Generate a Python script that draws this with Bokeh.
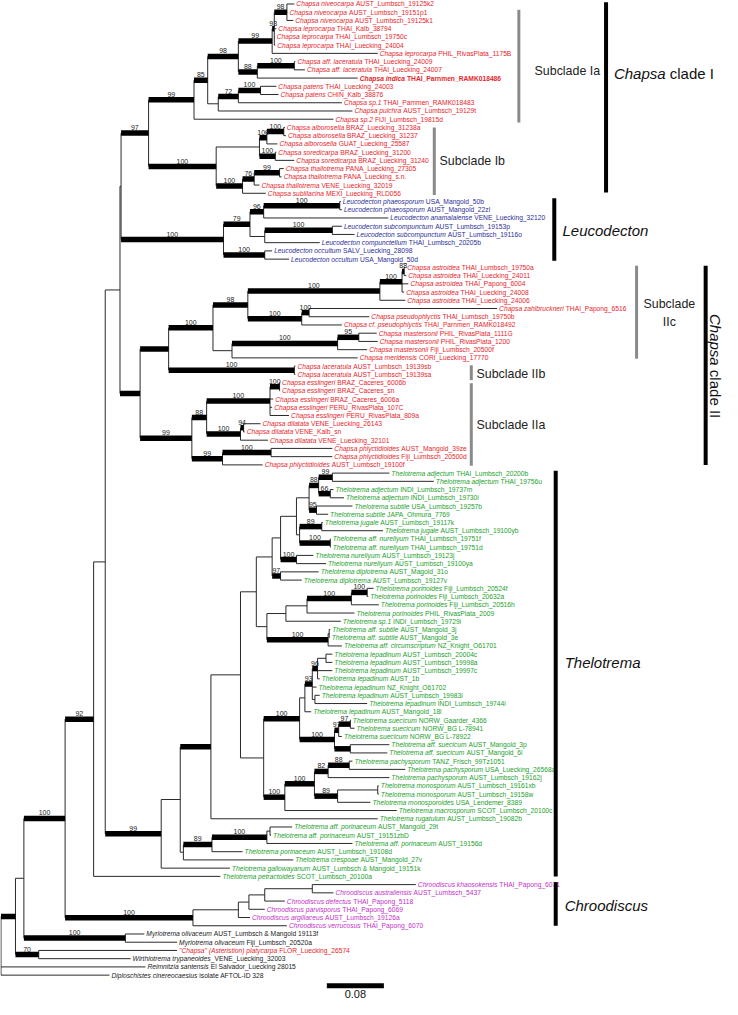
import math
from bokeh.plotting import figure
from bokeh.models import Range1d, ColumnDataSource
from bokeh.core.properties import value
from bokeh.embed import file_html
from bokeh.resources import INLINE

# ---------------------------------------------------------------- data
TAXA = [
    "Chapsa niveocarpa", "Chapsa niveocarpa", "Chapsa niveocarpa",
    "Chapsa leprocarpa", "Chapsa leprocarpa", "Chapsa leprocarpa", "Chapsa leprocarpa",
    "Chapsa aff. laceratula", "Chapsa aff. laceratula", "Chapsa indica",
    "Chapsa patens", "Chapsa patens", "Chapsa sp.1", "Chapsa pulchra", "Chapsa sp.2",
    "Chapsa alborosella", "Chapsa alborosella", "Chapsa alborosella",
    "Chapsa soredicarpa", "Chapsa soredicarpa",
    "Chapsa thallotrema", "Chapsa thallotrema", "Chapsa thallotrema", "Chapsa sublilacina",
    "Leucodecton phaeosporum", "Leucodecton phaeosporum", "Leucodecton anamalaiense",
    "Leucodecton subcompunctum", "Leucodecton subcompunctum", "Leucodecton compunctellum",
    "Leucodecton occultum", "Leucodecton occultum",
    "Chapsa astroidea", "Chapsa astroidea", "Chapsa astroidea", "Chapsa astroidea", "Chapsa astroidea",
    "Chapsa zahlbruckneri", "Chapsa pseudophlyctis", "Chapsa cf. pseudophlyctis",
    "Chapsa mastersonii", "Chapsa mastersonii", "Chapsa mastersonii", "Chapsa meridensis",
    "Chapsa laceratula", "Chapsa laceratula",
    "Chapsa esslingeri", "Chapsa esslingeri", "Chapsa esslingeri", "Chapsa esslingeri", "Chapsa esslingeri",
    "Chapsa dilatata", "Chapsa dilatata", "Chapsa dilatata",
    "Chapsa phlyctidioides", "Chapsa phlyctidioides", "Chapsa phlyctidioides",
    "Thelotrema adjectum", "Thelotrema adjectum", "Thelotrema adjectum", "Thelotrema adjectum",
    "Thelotrema subtile", "Thelotrema subtile", "Thelotrema jugale", "Thelotrema jugale",
    "Thelotrema aff. nureliyum", "Thelotrema aff. nureliyum",
    "Thelotrema nureliyum", "Thelotrema nureliyum",
    "Thelotrema diplotrema", "Thelotrema diplotrema",
    "Thelotrema porinoides", "Thelotrema porinoides", "Thelotrema porinoides", "Thelotrema porinoides",
    "Thelotrema sp.1", "Thelotrema aff. subtile", "Thelotrema aff. subtile",
    "Thelotrema aff. circumscriptum",
    "Thelotrema lepadinum", "Thelotrema lepadinum", "Thelotrema lepadinum", "Thelotrema lepadinum",
    "Thelotrema lepadinum", "Thelotrema lepadinum", "Thelotrema lepadinum", "Thelotrema lepadinum",
    "Thelotrema suecicum", "Thelotrema suecicum", "Thelotrema suecicum",
    "Thelotrema aff. suecicum", "Thelotrema aff. suecicum",
    "Thelotrema pachysporum", "Thelotrema pachysporum", "Thelotrema pachysporum",
    "Thelotrema monosporum", "Thelotrema monosporum", "Thelotrema monosporoides",
    "Thelotrema macrosporum", "Thelotrema rugatulum",
    "Thelotrema aff. porinaceum", "Thelotrema aff. porinaceum", "Thelotrema aff. porinaceum",
    "Thelotrema porinaceum", "Thelotrema crespoae", "Thelotrema gallowayanum",
    "Thelotrema petractoides",
    "Chroodiscus khaosokensis", "Chroodiscus australiensis", "Chroodiscus defectus",
    "Chroodiscus parvisporus", "Chroodiscus argillaceus", "Chroodiscus verrucosus",
    "Myriotrema olivaceum", "Myriotrema olivaceum",
    "\"Chapsa\" (Asteristion) platycarpa", "Wirthiotrema trypaneoides",
    "Reimnitzia santensis", "Diploschistes cinereocaesius",
]
VOUCHERS = [
    "AUST_Lumbsch_19125k2", "AUST_Lumbsch_19151p1", "AUST_Lumbsch_19125k1",
    "THAI_Kalb_38794", "THAI_Lumbsch_19750c", "THAI_Luecking_24004", "PHIL_RivasPlata_1175B",
    "THAI_Luecking_24009", "THAI_Luecking_24007", "THAI_Parnmen_RAMK018486",
    "THAI_Luecking_24003", "CHIN_Kalb_38876", "THAI_Pammen_RAMK018483",
    "AUST_Lumbsch_19129t", "FIJI_Lumbsch_19815d",
    "BRAZ_Luecking_31238a", "BRAZ_Luecking_31237", "GUAT_Luecking_25587",
    "BRAZ_Luecking_31200", "BRAZ_Luecking_31240",
    "PANA_Luecking_27305", "PANA_Luecking_s.n.", "VENE_Luecking_32019", "MEXI_Luecking_RLD056",
    "USA_Mangold_50b", "AUST_Mangold_22zl", "VENE_Luecking_32120",
    "AUST_Lumbsch_19153p", "AUST_Lumbsch_19116o", "THAI_Lumbsch_20205b",
    "SALV_Luecking_28098", "USA_Mangold_50d",
    "THAI_Lumbsch_19750a", "THAI_Luecking_24011", "THAI_Papong_6004",
    "THAI_Luecking_24008", "THAI_Luecking_24006",
    "THAI_Papong_6516", "THAI_Lumbsch_19750b", "THAI_Parnmen_RAMK018492",
    "PHIL_RivasPlata_1111G", "PHIL_RivasPlata_1200", "Fiji_Lumbsch_20500f", "CORI_Luecking_17770",
    "AUST_Lumbsch_19139sb", "AUST_Lumbsch_19139sa",
    "BRAZ_Caceres_6006b", "BRAZ_Caceres_sn", "BRAZ_Caceres_6006a",
    "PERU_RivasPlata_107C", "PERU_RivasPlata_809a",
    "VENE_Luecking_26143", "VENE_Kalb_sn", "VENE_Luecking_32101",
    "AUST_Mangold_39ze", "Fiji_Lumbsch_20500d", "AUST_Lumbsch_19100f",
    "THAI_Lumbsch_20200b", "THAI_19756u", "INDI_Lumbsch_19737m", "INDI_Lumbsch_19730i",
    "USA_Lumbsch_19257b", "JAPA_Ohmura_7769", "AUST_Lumbsch_19117k", "AUST_Lumbsch_19100yb",
    "THAI_Lumbsch_19751f", "THAI_Lumbsch_19751d",
    "AUST_Lumbsch_19123j", "AUST_Lumbsch_19100ya",
    "AUST_Magold_31o", "AUST_Lumbsch_19127v",
    "Fiji_Lumbsch_20524f", "Fiji_Lumbsch_20632a", "Fiji_Lumbsch_20516h", "PHIL_RivasPlata_2009",
    "INDI_Lumbsch_19729i", "AUST_Mangold_3j", "AUST_Mangold_3e", "NZ_Knight_O61701",
    "AUST_Lumbsch_20004c", "AUST_Lumbsch_19998a", "AUST_Lumbsch_19997c", "AUST_1b",
    "NZ_Knight_O61702", "AUST_Lumbsch_19983i", "INDI_Lumbsch_19744i", "AUST_Mangold_18l",
    "NORW_Gaarder_4366", "NORW_BG L-78941", "NORW_BG L-78922",
    "AUST_Mangold_3p", "AUST_Mangold_6l",
    "TANZ_Frisch_99Tz1051", "USA_Luecking_26568a", "AUST_Lumbsch_19162j",
    "AUST_Lumbsch_19161xb", "AUST_Lumbsch_19158w", "USA_Lendemer_8389",
    "SCOT_Lumbsch_20100c", "AUST_Lumbsch_19082b",
    "AUST_Mangold_29t", "AUST_19151zbD", "AUST_19156d",
    "AUST_Lumbsch_19108d", "AUST_Mangold_27v", "AUST_Lumbsch & Mangold_19151k",
    "SCOT_Lumbsch_20100a",
    "THAI_Papong_6071", "AUST_Lumbsch_5437", "THAI_Papong_5118",
    "THAI_Papong_6069", "AUST_Lumbsch_19126a", "THAI_Papong_6070",
    "AUST_Lumbsch & Mangold 19113f", "Fiji_Lumbsch_20520a",
    "FLOR_Luecking_26574", "_VENE_Luecking_32003",
    "El Salvador_Luecking 28015", "isolate AFTOL-ID 328",
]
# R = Chapsa, B = Leucodecton, G = Thelotrema, M = Chroodiscus, K = outgroups
GROUPS = list("R" * 24 + "B" * 8 + "R" * 25 + "G" * 50 + "M" * 6 + "KK" + "R" + "KKK")
BOLD_LEAVES = [9]

# tip depth (substitutions / site from the root)
LEAF_DEPTH = [
    0.4114, 0.4017, 0.4099, 0.3862, 0.3840, 0.3847, 0.5284, 0.4129, 0.4262, 0.5003,
    0.3862, 0.3892, 0.4781, 0.4929, 0.4662, 0.3981, 0.3996, 0.3877, 0.3862, 0.4114,
    0.3966, 0.3936, 0.3625, 0.3714, 0.4766, 0.4781, 0.5433, 0.4781, 0.4958, 0.4470,
    0.3803, 0.4040, 0.5670, 0.5684, 0.5714, 0.5655, 0.5670, 0.6958, 0.5166, 0.4781,
    0.5270, 0.5284, 0.5136, 0.5003, 0.4129, 0.4129, 0.3914, 0.3914, 0.3818, 0.3803,
    0.4040, 0.3640, 0.3418, 0.3744, 0.4647, 0.4647, 0.3670, 0.5447, 0.6070, 0.4662,
    0.4810, 0.4929, 0.4588, 0.4514, 0.5358, 0.4625, 0.4625, 0.4381, 0.4558, 0.4455,
    0.4218, 0.5225, 0.5151, 0.5299, 0.4958, 0.4766, 0.4618, 0.4610, 0.4781, 0.4647,
    0.4647, 0.4647, 0.4470, 0.4425, 0.4470, 0.5136, 0.4351, 0.4907, 0.4958, 0.4781,
    0.5447, 0.5418, 0.4929, 0.5670, 0.5447, 0.5299, 0.5299, 0.5181, 0.5551, 0.5284,
    0.4084, 0.3788, 0.4929, 0.3388, 0.4099, 0.3210, 0.3077, 0.5818, 0.4662, 0.3981,
    0.3699, 0.3492, 0.4010, 0.2010, 0.2470, 0.2470, 0.1818, 0.2025, 0.1521,
]


def clade(depth, support, thick, *kids):
    return {"depth": depth, "support": support, "thick": thick, "kids": kids}


# topology: clade(node depth, support value, strongly supported branch, children...)
TREE = clade(0.0, None, False,
  clade(0.0203, None, True,
    clade(0.0321, None, False,
      clade(0.0899, "100", True,
        clade(0.1299, "92", True,
          clade(0.1462, None, False,
            clade(0.1669, None, False,
              clade(0.1684, None, False,
                clade(0.2070, "97", True,
                  clade(0.2707, "99", True,
                    clade(0.2899, "85", True,
                      clade(0.3329, "98", True,
                        clade(0.3803, "99", True,
                          clade(0.3833, "93", True,
                            clade(0.4010, "98", True, 0, 1, 2),
                            3, 4, 5),
                          6),
                        clade(0.3595, "88", True,
                          clade(0.4114, "100", True, 7, 8),
                          9)),
                      clade(0.3047, None, False,
                        clade(0.3329, "72", True,
                          clade(0.3640, "100", True, 10, 11),
                          12),
                        13)),
                    14),
                  clade(0.3018, "100", True,
                    clade(0.3625, None, False,
                      clade(0.3729, "100", True,
                        clade(0.3966, "100", True, 15, 16),
                        17),
                      clade(0.3847, "100", True, 18, 19)),
                    clade(0.3388, "100", True,
                      clade(0.3551, "76", True,
                        clade(0.3907, "99", True, 20, 21),
                        22),
                      23))),
                clade(0.3121, "100", True,
                  clade(0.3492, "79", True,
                    clade(0.3684, "96", True,
                      clade(0.4751, "100", True, 24, 25),
                      26),
                    clade(0.3699, None, False,
                      clade(0.4647, "100", True, 27, 28),
                      29)),
                  clade(0.3699, "100", True, 30, 31))),
              clade(0.1951, None, True,
                clade(0.2351, None, True,
                  clade(0.2973, "100", True,
                    clade(0.3462, "98", True,
                      clade(0.5314, "100", True,
                        clade(0.5625, "100", True,
                          clade(0.5655, "88", True, 32, 33),
                          34, 35),
                        36),
                      clade(0.4218, "100", True,
                        clade(0.4321, "100", True, 37, 38),
                        39)),
                    clade(0.3240, None, False,
                      clade(0.4721, "100", True,
                        clade(0.5018, "95", True, 40, 41),
                        42),
                      43)),
                  clade(0.4114, "100", True, 44, 45)),
                clade(0.2677, "99", True,
                  clade(0.2884, "88", True,
                    clade(0.3773, "100", True,
                      clade(0.3907, "100", True, 46, 47),
                      48, 49, 50),
                    clade(0.3359, "100", True,
                      clade(0.3403, "94", True, 51, 52),
                      53)),
                  clade(0.3107, "99", True,
                    clade(0.3788, "100", True, 54, 55),
                    56)))),
            clade(0.2247, "99", True,
              clade(0.2514, None, False,
                clade(0.2944, None, True,
                  clade(0.3359, None, False,
                    clade(0.3581, None, False,
                      clade(0.3803, None, False,
                        clade(0.3921, None, False,
                          clade(0.4144, None, False,
                            clade(0.4321, None, False,
                              clade(0.4455, "88", True,
                                clade(0.4647, "99", True, 57, 58),
                                clade(0.4618, "66", True, 59, 60)),
                              clade(0.4425, "95", True, 61, 62)),
                            clade(0.4188, None, False,
                              clade(0.4499, "89", True, 63, 64),
                              clade(0.4618, "100", True, 65, 66))),
                          clade(0.4144, "100", True, 67, 68)),
                        clade(0.3921, "97", True, 69, 70)),
                      clade(0.3729, None, False,
                        clade(0.3996, None, False,
                          clade(0.4292, None, False,
                            clade(0.4914, "100", True,
                              clade(0.5136, "100", True, 71, 72),
                              73),
                            74),
                          75),
                        clade(0.4588, "100", True,
                          clade(0.4603, None, False, 76, 77),
                          78))),
                    clade(0.3684, None, False,
                      clade(0.4188, "100", True,
                        clade(0.4262, None, False,
                          clade(0.4366, "93", True,
                            clade(0.4440, "96", True,
                              clade(0.4558, None, False, 79, 80),
                              81, 82),
                            83,
                            clade(0.4403, None, False, 84, 85)),
                          86),
                        clade(0.4677, "100", True,
                          clade(0.4736, "97", True,
                            clade(0.4899, "97", True, 87, 88),
                            89),
                          clade(0.4899, None, True, 90, 91))),
                      clade(0.3981, "100", True,
                        clade(0.4396, "100", True,
                          clade(0.4588, "82", True,
                            clade(0.4884, "88", True, 92, 93),
                            94),
                          clade(0.4721, "89", True,
                            clade(0.5284, None, False, 95, 96),
                            97)),
                        98))),
                  99),
                clade(0.2558, None, False,
                  clade(0.2959, "89", True,
                    clade(0.3729, "100", True,
                      clade(0.3773, None, False, 100, 101),
                      102),
                    103),
                  104)),
              105)),
          106),
        clade(0.2692, "100", True,
          clade(0.3329, None, False,
            clade(0.3477, None, False,
              clade(0.3699, None, False,
                clade(0.4366, None, False, 107, 108),
                109),
              110),
            111),
          112)),
      clade(0.1744, "100", True, 113, 114)),
    clade(0.0529, "70", True, 115, 116)),
  117, 118)

# clade annotations: (name, first leaf, last leaf, kind)
BRACKETS = [
    ("Subclade Ia", 0, 14, "sub"),
    ("Subclade Ib", 15, 23, "sub"),
    ("Subclade IIc", 32, 43, "sub"),
    ("Subclade IIb", 44, 45, "sub"),
    ("Subclade IIa", 46, 56, "sub"),
    ("Chapsa clade I", 0, 23, "main"),
    ("Leucodecton", 24, 31, "main"),
    ("Chapsa clade II", 32, 56, "main"),
    ("Thelotrema", 57, 106, "main"),
    ("Chroodiscus", 107, 112, "main"),
]
SCALE_LENGTH = 0.08
SCALE_LABEL = "0.08"

# ---------------------------------------------------------------- styling / layout
PX_PER_UNIT = 713.0
W, H = 722, 999
X0 = -0.0007
ROW_PX = 8.23
Y_TOP = -0.425
FONT = "Liberation Sans"
LEAF_SIZE = 6.7
SUB_SIZE = 12.4
MAIN_SIZE = 15
COLORS = {"R": "#e8242b", "B": "#2b2e96", "G": "#22a12b", "M": "#c42fc8", "K": "#1a1a1a"}
LINE_COLOR = "#2a2a2a"

W_REG = {' ': 278, '!': 278, '"': 355, '&': 667, "'": 191, '(': 333, ')': 333, '-': 333,
         '.': 278, '_': 556,
         'A': 667, 'B': 667, 'C': 722, 'D': 722, 'E': 667, 'F': 611, 'G': 778, 'H': 722,
         'I': 278, 'J': 500, 'K': 667, 'L': 556, 'M': 833, 'N': 722, 'O': 778, 'P': 667,
         'Q': 778, 'R': 722, 'S': 667, 'T': 611, 'U': 722, 'V': 667, 'W': 944, 'X': 667,
         'Y': 667, 'Z': 611,
         'a': 556, 'b': 556, 'c': 500, 'd': 556, 'e': 556, 'f': 278, 'g': 556, 'h': 556,
         'i': 222, 'j': 222, 'k': 500, 'l': 222, 'm': 833, 'n': 556, 'o': 556, 'p': 556,
         'q': 556, 'r': 333, 's': 500, 't': 278, 'u': 556, 'v': 500, 'w': 722, 'x': 500,
         'y': 500, 'z': 500}
W_BOLD = dict(W_REG)
W_BOLD.update({'A': 722, 'B': 722, 'K': 722, 'L': 611, 'J': 556,
               'b': 611, 'c': 556, 'd': 611, 'f': 333, 'g': 611, 'h': 611, 'i': 278,
               'j': 278, 'k': 556, 'l': 278, 'm': 889, 'n': 611, 'o': 611, 'p': 611,
               'q': 611, 'r': 389, 's': 556, 't': 333, 'u': 611, 'v': 556, 'w': 778,
               'x': 556, 'y': 556})


def tw(s, size, bold=False):
    tab = W_BOLD if bold else W_REG
    return sum(tab.get(c, 556) for c in s) * size / 1000.0


p = figure(width=W, height=H, output_backend="svg", toolbar_location=None,
           x_range=Range1d(X0, X0 + W / PX_PER_UNIT),
           y_range=Range1d(Y_TOP + H / ROW_PX, Y_TOP),
           x_axis_type=None, y_axis_type=None, min_border=0)
p.grid.visible = False
p.outline_line_color = None
p.background_fill_color = "white"

# ---------------------------------------------------------------- tree geometry
thin = dict(x0=[], y0=[], x1=[], y1=[])
thick = dict(x0=[], y0=[], x1=[], y1=[])
sup = dict(x=[], y=[], t=[])


def place(node):
    if isinstance(node, int):
        return float(node), LEAF_DEPTH[node]
    ys = []
    for k in node["kids"]:
        yk, dk = place(k)
        ys.append(yk)
        is_thick = (not isinstance(k, int)) and k["thick"]
        tgt = thick if is_thick else thin
        tgt["x0"].append(node["depth"]); tgt["x1"].append(dk)
        tgt["y0"].append(yk); tgt["y1"].append(yk)
        if not isinstance(k, int) and k["support"]:
            sup["x"].append((node["depth"] + dk) / 2.0)
            sup["y"].append(yk)
            sup["t"].append(k["support"])
    thin["x0"].append(node["depth"]); thin["x1"].append(node["depth"])
    thin["y0"].append(ys[0]); thin["y1"].append(ys[-1])
    return (ys[0] + ys[-1]) / 2.0, node["depth"]


place(TREE)

p.segment("x0", "y0", "x1", "y1", source=ColumnDataSource(thin),
          line_color=LINE_COLOR, line_width=1)
p.segment("x0", "y0", "x1", "y1", source=ColumnDataSource(thick),
          line_color="black", line_width=5.5, line_cap="butt")
p.text("x", "y", "t", source=ColumnDataSource(sup), text_font=value(FONT),
       text_font_size="7px", text_align="center", text_baseline="bottom",
       y_offset=-3, text_color="#222222")

# ---------------------------------------------------------------- tip labels
it = dict(x=[], y=[], t=[], c=[], xo=[])
itb = dict(x=[], y=[], t=[], c=[], xo=[])
rg = dict(x=[], y=[], t=[], c=[], xo=[])
rgb = dict(x=[], y=[], t=[], c=[], xo=[])
for i, (tx, vc) in enumerate(zip(TAXA, VOUCHERS)):
    bold = i in BOLD_LEAVES
    col = COLORS[GROUPS[i]]
    a = itb if bold else it
    b = rgb if bold else rg
    a["x"].append(LEAF_DEPTH[i]); a["y"].append(i); a["t"].append(tx); a["c"].append(col)
    a["xo"].append(2.0)
    gap = 0 if vc.startswith("_") else tw(" ", LEAF_SIZE, bold)
    b["x"].append(LEAF_DEPTH[i]); b["y"].append(i); b["t"].append(vc); b["c"].append(col)
    b["xo"].append(2.0 + tw(tx, LEAF_SIZE, bold) + gap)

for src, style in ((it, "italic"), (itb, "bold italic"), (rg, "normal"), (rgb, "bold")):
    if src["x"]:
        p.text("x", "y", "t", source=ColumnDataSource(src), x_offset="xo",
               text_color="c", text_font=value(FONT), text_font_style=style,
               text_font_size=f"{LEAF_SIZE}px", text_baseline="middle", text_align="left")

# ---------------------------------------------------------------- clade brackets
# layout: bar x, label x, row trim at top, row trim at bottom, label row shift
BR_LAYOUT = {
    "Subclade Ia": (0.7263, 0.7484, 1.2, 0.1, 1.2),
    "Subclade Ib": (0.6077, 0.6151, 0.5, 0.3, 0.1),
    "Subclade IIc": (0.8914, 0.9011, 0.3, 0.4, 0.0),
    "Subclade IIb": (0.6596, 0.6669, 0.4, -0.2, 0.4),
    "Subclade IIa": (0.6596, 0.6669, 0.58, 0.4, 0.1),
    "Chapsa clade I": (0.8486, 0.8596, 0.3, 0.6, -3.0),
    "Leucodecton": (0.7760, 0.7875, 0.1, 0.3, 0.0),
    "Chapsa clade II": (0.9883, 1.0021, 0.3, 0.5, 0.0),
    "Thelotrema": (0.7780, 0.7905, 0.2, 0.5, -1.5),
    "Chroodiscus": (0.7780, 0.7905, 0.2, 0.5, 0.0),
}
for name, r0, r1, kind in BRACKETS:
    bx, lx, pt, pb, shift = BR_LAYOUT[name]
    colr, lw = ("#8a8a8a", 3) if kind == "sub" else ("black", 4)
    p.segment([bx], [r0 - 0.5 + pt], [bx], [r1 + 0.5 - pb], line_color=colr,
              line_width=lw, line_cap="butt")
    yc = (r0 + r1) / 2.0 + shift
    if kind == "sub":
        if name == "Subclade IIc":
            wsub = tw("Subclade", SUB_SIZE)
            p.text([lx, lx], [yc - 1.0, yc + 1.1], ["Subclade", "IIc"], text_font=value(FONT),
                   text_font_size=f"{SUB_SIZE}px", text_baseline="middle", text_align="center",
                   x_offset=[wsub / 2, wsub / 2], text_color="#222222")
        else:
            p.text([lx], [yc], [name], text_font=value(FONT), text_font_size=f"{SUB_SIZE}px",
                   text_baseline="middle", text_align="left", text_color="#222222")
    else:
        if name.startswith("Chapsa"):
            pieces = [("Chapsa", "italic"), (name[len("Chapsa "):], "normal")]
        else:
            pieces = [(name, "italic")]
        widths = [tw(s, MAIN_SIZE) for s, _ in pieces]
        total = sum(widths) + tw(" ", MAIN_SIZE) * (len(pieces) - 1)
        off = 0.0
        vertical = name == "Chapsa clade II"
        for (s, st), w in zip(pieces, widths):
            if vertical:
                p.text([lx], [yc], [s], text_font=value(FONT), text_font_style=st,
                       text_font_size=f"{MAIN_SIZE}px", text_baseline="middle",
                       text_align="left", angle=-math.pi / 2, y_offset=-total / 2 + off,
                       text_color="#111111")
            else:
                p.text([lx], [yc], [s], text_font=value(FONT), text_font_style=st,
                       text_font_size=f"{MAIN_SIZE}px", text_baseline="middle",
                       text_align="left", x_offset=off, text_color="#111111")
            off += w + tw(" ", MAIN_SIZE)

# ---------------------------------------------------------------- scale bar
SB_X, SB_ROW = 0.457, 119.3
p.segment([SB_X], [SB_ROW], [SB_X + SCALE_LENGTH], [SB_ROW], line_color="black",
          line_width=5, line_cap="butt")
p.text([SB_X + SCALE_LENGTH / 2], [SB_ROW], [SCALE_LABEL], text_font=value(FONT),
       text_font_size="11px", text_align="center", text_baseline="top", y_offset=4,
       text_color="#111111")

open("out.html", "w").write(file_html(p, INLINE))
